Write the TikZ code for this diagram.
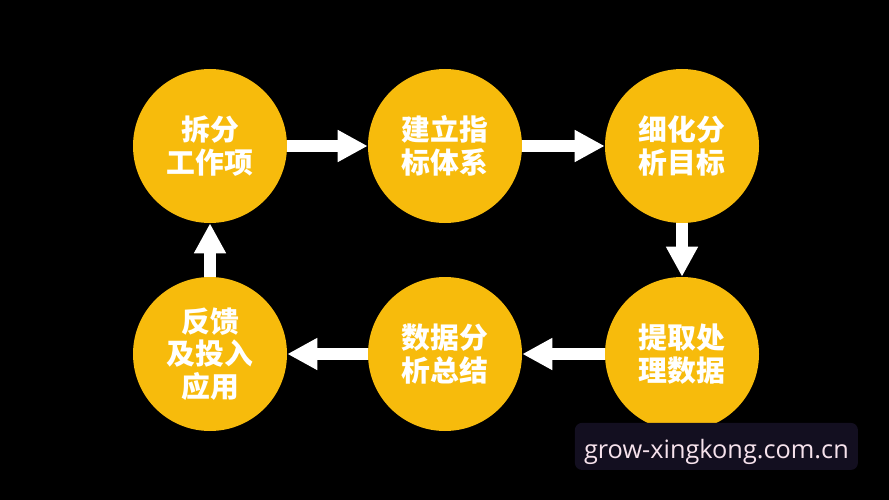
\documentclass[tikz,border=0pt]{standalone}
\usepackage{fontspec}
\newfontfamily\cjk{Noto Sans CJK SC}
\newfontfamily\webfont{Open Sans}
\usetikzlibrary{arrows.meta,positioning}
\definecolor{sun}{RGB}{247,187,12}
\definecolor{night}{RGB}{19,15,32}
\definecolor{blush}{RGB}{246,226,236}
\tikzset{
  station/.style={circle,fill=sun,text=white,minimum size=3.85cm,inner sep=0pt,
    font=\cjk\bfseries\fontsize{20.5}{23}\selectfont,align=center},
  flow/.style={-{Triangle[width=7.5mm,length=7.5mm]},line width=3mm,draw=white},
  stamp/.style={fill=night,rounded corners=5pt,minimum width=7.075cm,minimum height=1.175cm,
    text height=7.5mm,text depth=1.7mm,text=blush,font=\webfont\fontsize{18}{20}\selectfont},
}
\begin{document}
\begin{tikzpicture}
  \fill[black] (0,0) rectangle (22.225,-12.5);
  \useasboundingbox (0,0) rectangle (22.225,-12.5);
  % steps, clockwise
  \foreach \t/\p [count=\i from 0] in {拆分\\工作项/{5.25,-3.65},建立指\\标体系/{11.125,-3.65},
      细化分\\析目标/{17.05,-3.65},提取处\\理数据/{17.05,-8.85},
      数据分\\析总结/{11.125,-8.85},反馈\\及投入\\应用/{5.25,-8.85}}{
    \node[station] (s\i) at (\p) {\t};
  }
  \foreach \i [evaluate=\i as \j using {int(mod(\i+1,6))}] in {0,...,5} \draw[flow] (s\i) -- (s\j);
  \node[stamp] (mark) at (17.91,-11.16) {grow-xingkong.com.cn};
\end{tikzpicture}
\end{document}
